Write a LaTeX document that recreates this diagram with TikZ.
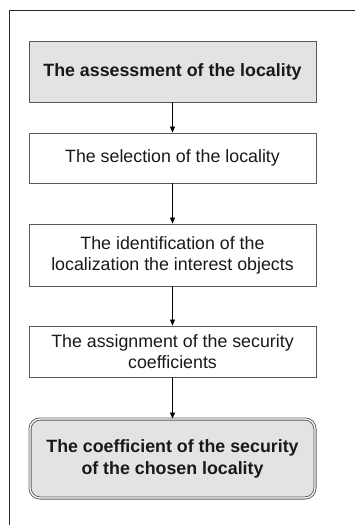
\documentclass[tikz,border=0pt]{standalone}
\usepackage{fontspec}
\setmainfont{Liberation Sans}
\usetikzlibrary{arrows.meta}
\definecolor{boxgray}{HTML}{E3E3E3}
\definecolor{edge}{HTML}{5A5A5A}
\begin{document}
\begin{tikzpicture}[x=1pt,y=-1pt,
  stepbox/.style={draw=edge,line width=0.9pt,minimum width=287pt,align=center,
    font=\fontsize{17.8}{21}\selectfont,inner sep=0pt,text=black!90},
  keybox/.style={stepbox,fill=boxgray,font=\fontsize{17.8}{22}\selectfont\bfseries},
  flow/.style={-{Triangle[width=5pt,length=6pt]},line width=0.8pt,black}]
\useasboundingbox (0,0) rectangle (354,525);
% outer frame (only its top and left sides fall inside the page)
\draw[line width=0.8pt,black!85] (9,530) -- (9,10) -- (360,10);
\node[keybox,minimum height=61pt] (a) at (172.5,71.5) {The assessment of the locality};
\node[stepbox,minimum height=50pt] (b) at (172.5,158) {The selection of the locality};
\node[stepbox,minimum height=62pt] (c) at (172.5,255) {The identification of the\\localization the interest objects};
\node[stepbox,minimum height=51pt] (d) at (172.5,351.5) {The assignment of the security\\coefficients};
\node[keybox,minimum height=79pt,minimum width=285pt,rounded corners=10pt,
  draw=edge,line width=0.9pt,double=white,double distance=1.2pt] (e) at (172.5,458.5)
  {The coefficient of the security\\of the chosen locality};
\draw[flow] (a) -- (b);
\draw[flow] (b) -- (c);
\draw[flow] (c) -- (d);
\draw[flow] (d) -- (e);
\end{tikzpicture}
\end{document}
